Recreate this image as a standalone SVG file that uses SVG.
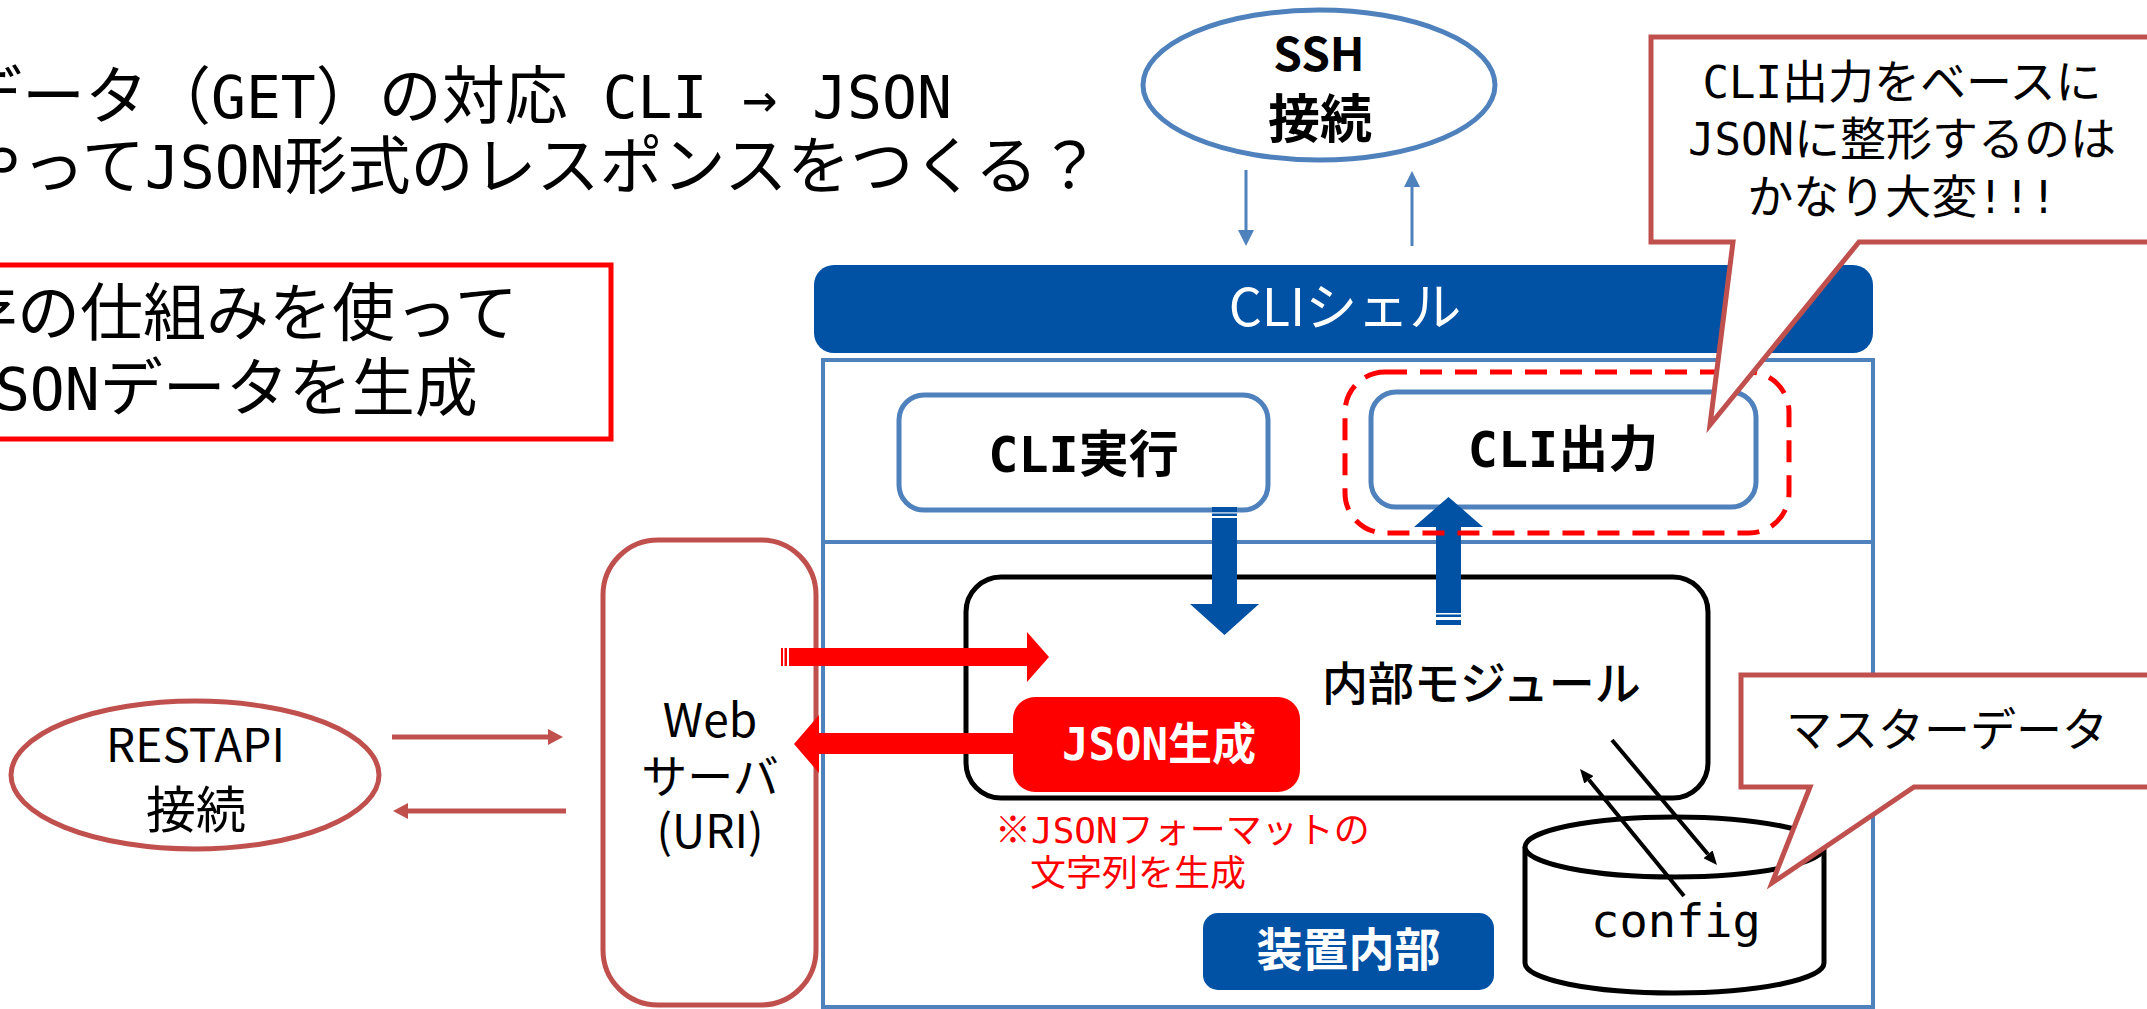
<svg xmlns="http://www.w3.org/2000/svg" width="2147" height="1009" viewBox="0 0 2147 1009">
<defs>
<style>
text{font-family:'Noto Sans CJK JP','Noto Sans',sans-serif;fill:#000;}
text.m{font-family:'DejaVu Sans Mono','Noto Sans CJK JP',monospace;}
.jpf{font-family:'Noto Sans CJK JP',sans-serif;}
.big{font-size:63px;}
.bl{font-size:58px;}
.cal{font-size:46px;}
.cl{font-size:44px;}
text.wht{fill:#fff;}
.b{font-weight:bold;}
.mid{text-anchor:middle;}
.lb{fill:#fff;stroke:#4F81BD;stroke-width:5;}
.rb{fill:#fff;stroke:#C0504D;stroke-width:5;}
.db{fill:#0151A4;}
.rf{fill:#FF0000;}
.call{fill:#fff;stroke:#C0504D;stroke-width:5;stroke-linejoin:miter;}
</style>
<marker id="ahL" markerUnits="userSpaceOnUse" markerWidth="16" markerHeight="16" viewBox="0 0 16 16" refX="0" refY="8" orient="auto"><path d="M0,0 L16,8 L0,16 z" fill="#4F81BD"/></marker>
<marker id="ahR" markerUnits="userSpaceOnUse" markerWidth="15" markerHeight="16" viewBox="0 0 15 16" refX="0" refY="8" orient="auto"><path d="M0,0 L15,8 L0,16 z" fill="#C0504D"/></marker>
<marker id="ahK" markerUnits="userSpaceOnUse" markerWidth="14" markerHeight="12" viewBox="0 0 14 12" refX="0" refY="6" orient="auto"><path d="M0,0 L14,6 L0,12 z" fill="#000"/></marker>
</defs>
<rect width="2147" height="1009" fill="#fff"/>

<g id="title">
<text class="m big" x="-41" y="118">データ（<tspan class="bl">GET</tspan>）の対応<tspan class="bl"> CLI → JSON</tspan></text>
<text class="m big" x="-41" y="188">やって<tspan class="bl">JSON</tspan>形式のレスポンスをつくる？</text>
</g>

<g id="note-box">
<rect x="-10" y="265" width="621" height="174" fill="#fff" stroke="#FF0000" stroke-width="5"/>
<text class="m big" x="-46" y="335">存の仕組みを使って</text>
<text class="m big" x="-40" y="410"><tspan class="bl">JSON</tspan>データを生成</text>
</g>

<g id="ssh">
<ellipse cx="1319" cy="85" rx="176" ry="75" class="lb"/>
<text class="mid b" x="1319" y="71" font-size="46">SSH</text>
<text class="mid b" x="1320" y="138" font-size="52">接続</text>
</g>

<g id="device">
<rect x="823" y="360" width="1050" height="647" fill="#fff" stroke="#4F81BD" stroke-width="4"/>
<line x1="823" y1="542" x2="1873" y2="542" stroke="#4F81BD" stroke-width="4"/>
</g>

<g id="cli-shell">
<rect x="814" y="265" width="1059" height="88" rx="20" class="db"/>
<text class="mid wht" x="1345" y="326" font-size="52">CLIシェル</text>
</g>

<g id="cli-exec">
<rect x="899" y="395" width="369" height="115" rx="25" class="lb"/>
<text class="m b mid" x="1083.5" y="472" font-size="50">CLI実行</text>
</g>

<g id="cli-out">
<rect x="1371" y="392" width="385" height="115" rx="25" class="lb"/>
<text class="m b mid" x="1563" y="467" font-size="50">CLI出力</text>
</g>

<g id="web-server">
<rect x="603" y="540" width="213" height="465" rx="55" class="rb"/>
<text class="mid" x="710" y="737" font-size="46">Web</text>
<text class="mid" x="710" y="793" font-size="46">サーバ</text>
<text class="mid" x="710" y="848" font-size="46">(URI)</text>
</g>

<g id="restapi">
<ellipse cx="195" cy="775" rx="184" ry="74" class="rb"/>
<text class="mid" x="195.5" y="762" font-size="46">RESTAPI</text>
<text class="mid" x="196" y="828" font-size="50">接続</text>
</g>

<g id="module">
<rect x="966" y="577" width="742" height="221" rx="35" fill="#fff" stroke="#000" stroke-width="5"/>
<text x="1322" y="700" font-size="46" font-weight="500">内部モジュール</text>
</g>

<g id="json-gen">
<rect x="1013" y="697" width="287" height="95" rx="22" class="rf"/>
<text class="m b mid wht" x="1159" y="760" font-size="44">JSON生成</text>
</g>

<g id="json-note">
<text class="m" x="995" y="843" font-size="36" fill="#FF0000" style="fill:#FF0000"><tspan class="jpf">※</tspan>JSONフォーマットの</text>
<text x="1030" y="886" font-size="36" style="fill:#FF0000">文字列を生成</text>
</g>

<g id="device-label">
<rect x="1203" y="913" width="291" height="77" rx="15" class="db"/>
<text class="b mid wht" x="1348.5" y="966" font-size="46">装置内部</text>
</g>

<g id="config">
<path d="M1525,847 V963 A149.5,30 0 0 0 1824,963 V847" fill="#fff" stroke="#000" stroke-width="5"/>
<ellipse cx="1674.5" cy="847" rx="149.5" ry="30" fill="#fff" stroke="#000" stroke-width="5"/>
<text class="m mid" x="1676" y="937" font-size="47">config</text>
</g>

<g id="connectors">
<line x1="1246" y1="170" x2="1246" y2="230" stroke="#4F81BD" stroke-width="3" marker-end="url(#ahL)"/>
<line x1="1412" y1="246" x2="1412" y2="187" stroke="#4F81BD" stroke-width="3" marker-end="url(#ahL)"/>
<line x1="392" y1="737" x2="548" y2="737" stroke="#C0504D" stroke-width="5" marker-end="url(#ahR)"/>
<line x1="566" y1="811" x2="408" y2="811" stroke="#C0504D" stroke-width="5" marker-end="url(#ahR)"/>
<rect x="1212" y="507" width="25" height="5" class="db"/>
<rect x="1212" y="513.5" width="25" height="2.5" class="db"/>
<path class="db" d="M1212,518 H1237 V604 H1259 L1224.5,635 L1190,604 H1212 Z"/>
<path class="db" d="M1436,613 V527 H1414 L1448.5,497 L1483,527 H1461 V613 Z"/>
<rect x="1436" y="614.5" width="25" height="2.5" class="db"/>
<rect x="1436" y="620" width="25" height="5" class="db"/>
<rect x="781" y="648" width="2" height="18" class="rf"/>
<rect x="784.5" y="648" width="2.5" height="18" class="rf"/>
<path class="rf" d="M789,648 H1027 V632 L1049,657 L1027,682 V666 H789 Z"/>
<path class="rf" d="M1013,733 H819 V715 L794,744 L819,773 V754 H1013 Z"/>
<line x1="1612" y1="740" x2="1708" y2="854.3" stroke="#000" stroke-width="4" marker-end="url(#ahK)"/>
<line x1="1684" y1="896" x2="1588.9" y2="779.8" stroke="#000" stroke-width="4" marker-end="url(#ahK)"/>
</g>

<g id="cli-out-highlight">
<rect x="1345" y="372" width="444" height="161" rx="40" fill="none" stroke="#FF0000" stroke-width="5" stroke-dasharray="22 13"/>
</g>

<g id="callout-cli">
<path class="call" d="M1651,37 H2160 V242 H1859 L1710,425 L1733,242 H1651 Z"/>
<text class="m mid cal" x="1902" y="98"><tspan class="cl">CLI</tspan>出力をベースに</text>
<text class="m mid cal" x="1902" y="155"><tspan class="cl">JSON</tspan>に整形するのは</text>
<text class="m mid cal" x="1902" y="213">かなり大変<tspan class="cl">!!!</tspan></text>
</g>

<g id="callout-master">
<path class="call" d="M1741,675 H2160 V787 H1914 L1772,883 L1810,787 H1741 Z"/>
<text x="1786" y="746" font-size="46">マスターデータ</text>
</g>
</svg>
